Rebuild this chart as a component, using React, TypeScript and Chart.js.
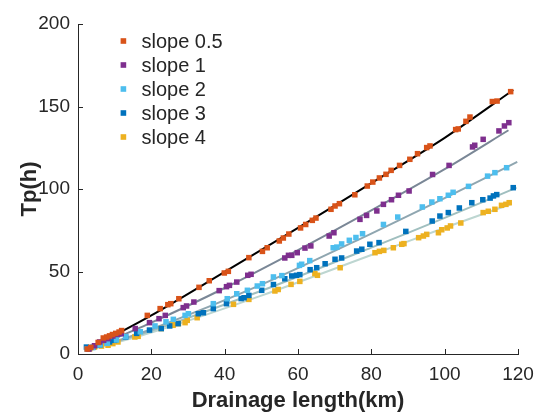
import React, { useEffect, useRef } from 'react';
import { Chart, registerables } from 'chart.js';

Chart.register(...registerables);

const seriesLabels = ['slope 0.5', 'slope 1', 'slope 2', 'slope 3', 'slope 4'];
const seriesColors = ['#D95319', '#7E2F8E', '#4DBEEE', '#0072BD', '#EDB120'];
const fitColors = ['#000000', '#7a8796', '#8fa6b0', '#a0bfbf', '#bdd6d1'];

const s05X = [2.5, 3.5, 5.5, 6.9, 7.8, 8.6, 9.4, 10.3, 11.2, 11.9, 18.9, 22.4, 24.5, 25.3, 27.5, 33.0, 35.8, 39.9, 41.0, 46.6, 50.3, 51.6, 54.9, 56.0, 57.5, 60.7, 62.1, 63.9, 64.9, 69.0, 70.1, 71.3, 75.5, 78.9, 80.4, 82.2, 84.0, 85.4, 87.7, 90.5, 92.6, 95.1, 96.0, 103.0, 103.7, 105.8, 106.9, 113.0, 114.3, 118.0];
const s05Y = [3.0, 4.0, 7.0, 9.7, 10.3, 11.0, 11.8, 12.5, 13.3, 14.2, 23.4, 27.5, 29.9, 30.5, 33.5, 40.4, 44.4, 49.1, 50.1, 58.4, 62.2, 64.4, 68.5, 70.3, 72.7, 76.4, 78.5, 81.0, 82.4, 87.7, 89.7, 91.1, 96.5, 101.8, 104.2, 106.7, 108.9, 111.3, 114.3, 118.0, 121.4, 125.1, 126.1, 136.0, 136.4, 141.0, 143.6, 153.0, 153.3, 159.0];

const s1X = [3.0, 4.5, 5.9, 7.0, 8.2, 9.5, 10.7, 11.8, 15.6, 19.5, 22.1, 23.8, 28.7, 29.6, 31.6, 38.5, 40.5, 41.3, 43.3, 46.3, 47.2, 56.4, 57.4, 58.3, 59.8, 61.9, 63.5, 68.5, 69.8, 76.9, 78.7, 81.5, 83.3, 85.5, 87.4, 90.3, 96.7, 101.2, 107.6, 108.2, 110.5, 114.8, 116.3, 117.5];
const s1Y = [3.0, 5.0, 7.3, 8.3, 9.3, 10.9, 11.9, 12.3, 15.4, 19.0, 21.4, 23.4, 28.1, 29.1, 31.5, 38.4, 40.8, 41.6, 43.6, 47.7, 48.3, 58.2, 59.8, 59.8, 61.4, 64.2, 65.5, 71.5, 73.5, 81.6, 84.0, 86.7, 90.7, 93.5, 96.2, 98.8, 108.8, 114.3, 125.5, 126.5, 130.1, 135.2, 138.2, 140.2];

const s2X = [2.5, 4.0, 6.0, 8.0, 10.5, 13.0, 17.0, 21.0, 24.0, 26.0, 29.2, 30.1, 36.9, 40.7, 43.3, 46.2, 48.9, 50.3, 53.3, 55.6, 60.4, 61.0, 63.2, 69.6, 70.6, 71.9, 74.0, 75.8, 77.6, 83.3, 87.2, 93.9, 96.5, 98.7, 101.0, 102.3, 106.5, 111.7, 113.7, 116.9];
const s2Y = [3.0, 4.0, 5.5, 6.5, 8.5, 10.5, 13.5, 17.0, 19.5, 21.0, 23.4, 24.4, 30.5, 33.5, 36.5, 38.6, 41.2, 42.6, 46.7, 47.5, 53.7, 54.4, 56.6, 64.4, 64.8, 66.7, 68.9, 70.6, 72.9, 78.5, 83.0, 89.1, 92.1, 94.1, 96.2, 98.0, 101.6, 107.8, 109.9, 112.9];

const s3X = [2.3, 2.7, 4.0, 6.0, 8.6, 10.0, 13.0, 16.0, 19.5, 22.7, 25.0, 27.3, 32.8, 34.2, 36.9, 40.5, 44.5, 45.3, 46.6, 50.1, 53.3, 56.4, 58.3, 59.6, 60.5, 63.3, 65.1, 67.4, 70.1, 71.9, 76.0, 77.4, 79.6, 82.1, 89.4, 96.6, 98.7, 101.0, 104.0, 107.4, 110.4, 112.4, 113.3, 114.2, 118.7];
const s3Y = [4.2, 3.2, 4.0, 5.5, 7.3, 8.3, 10.3, 12.5, 14.5, 15.4, 17.0, 18.4, 24.4, 25.0, 27.5, 30.5, 33.6, 34.1, 35.5, 38.6, 42.1, 45.6, 47.3, 47.7, 48.1, 51.1, 52.3, 54.7, 57.4, 58.2, 62.4, 63.5, 66.5, 67.5, 74.3, 80.6, 83.6, 85.7, 88.5, 91.7, 93.5, 94.5, 95.8, 96.6, 100.8];

const s4X = [3.2, 4.5, 6.4, 8.2, 9.5, 10.9, 15.5, 16.4, 22.7, 25.9, 26.0, 27.4, 29.2, 29.8, 32.5, 42.4, 46.6, 53.7, 54.6, 58.1, 60.5, 64.6, 65.3, 71.5, 81.0, 82.2, 83.4, 86.0, 88.3, 88.9, 92.9, 94.2, 95.1, 98.3, 99.2, 100.7, 101.6, 104.4, 110.5, 111.9, 113.7, 115.5, 116.7, 117.6];
const s4Y = [3.2, 4.2, 4.8, 5.3, 6.3, 7.3, 10.3, 10.7, 15.4, 17.4, 17.8, 18.4, 19.0, 20.4, 22.0, 30.1, 33.1, 38.2, 39.1, 42.2, 44.0, 48.7, 47.7, 52.3, 61.4, 62.2, 62.8, 64.4, 66.5, 66.9, 70.5, 71.5, 72.5, 73.5, 75.3, 76.4, 77.6, 79.4, 85.7, 86.5, 87.7, 90.1, 90.7, 91.7];

const fit05X = [2.5, 20, 40, 60, 80, 100, 118.7];
const fit05Y = [2.6, 23.4, 49.8, 76.5, 103.5, 131, 160];
const fit1X = [2.5, 20, 40, 60, 80, 100, 117.4];
const fit1Y = [2.3, 19, 40, 63, 87, 112, 135.6];
const fit2X = [2.5, 20, 50, 80, 100, 119.8];
const fit2Y = [2.2, 15, 42, 73, 94.5, 116.4];
const fit3X = [2.5, 20, 50, 80, 100, 119.6];
const fit3Y = [2.2, 14, 38.3, 64.5, 82.5, 100.8];
const fit4X = [2.5, 20, 50, 80, 100, 118.3];
const fit4Y = [2.2, 13, 35.4, 60, 76.5, 91.1];

const xTickStep = 20;
const yTickStep = 50;
const xTitle = 'Drainage length(km)';
const yTitle = 'Tp(h)';

const FONT = "'Liberation Sans', Arial, Helvetica, sans-serif";
const TEXT = '#262626';

const zip = (xs: number[], ys: number[]) => xs.map((x, i) => ({ x, y: ys[i] }));

const pointSets = [zip(s05X, s05Y), zip(s1X, s1Y), zip(s2X, s2Y), zip(s3X, s3Y), zip(s4X, s4Y)];
const fitSets = [zip(fit05X, fit05Y), zip(fit1X, fit1Y), zip(fit2X, fit2Y), zip(fit3X, fit3Y), zip(fit4X, fit4Y)];

const innerTicks = {
  id: 'innerTicks',
  afterDraw(chart: any) {
    const ctx = chart.ctx;
    const xs = chart.scales.x;
    const ys = chart.scales.y;
    const ca = chart.chartArea;
    ctx.save();
    ctx.strokeStyle = TEXT;
    ctx.lineWidth = 1;
    ctx.beginPath();
    xs.ticks.forEach((t: any) => {
      const px = Math.round(xs.getPixelForValue(t.value)) + 0.5;
      ctx.moveTo(px, ca.bottom);
      ctx.lineTo(px, ca.bottom - 5);
    });
    ys.ticks.forEach((t: any) => {
      const py = Math.round(ys.getPixelForValue(t.value)) + 0.5;
      ctx.moveTo(ca.left, py);
      ctx.lineTo(ca.left + 5, py);
    });
    ctx.stroke();
    ctx.restore();
  },
};

const insideLegend = {
  id: 'insideLegend',
  afterDraw(chart: any) {
    const ctx = chart.ctx;
    const ca = chart.chartArea;
    ctx.save();
    ctx.font = `20px ${FONT}`;
    ctx.textBaseline = 'middle';
    ctx.textAlign = 'left';
    let row = 0;
    chart.data.datasets.forEach((ds: any) => {
      if (!ds.isSeries) return;
      const y = ca.top + 17 + row * 24;
      ctx.fillStyle = ds.backgroundColor;
      ctx.fillRect(ca.left + 45.4 - 2.8, y - 2.8, 5.6, 5.6);
      ctx.fillStyle = TEXT;
      ctx.fillText(ds.label, ca.left + 63.5, y + 1);
      row++;
    });
    ctx.restore();
  },
};

export default function App() {
  const ref = useRef<HTMLCanvasElement | null>(null);
  useEffect(() => {
    if (!ref.current) return;
    const datasets: any[] = [];
    pointSets.forEach((pts, i) => {
      datasets.push({
        label: seriesLabels[i],
        isSeries: true,
        data: pts,
        showLine: false,
        pointStyle: 'rect',
        pointRadius: 3.9,
        pointBorderWidth: 0,
        backgroundColor: seriesColors[i],
        borderColor: seriesColors[i],
        order: 1,
      });
    });
    fitSets.forEach((pts, i) => {
      datasets.push({
        label: seriesLabels[i] + ' fit',
        isSeries: false,
        data: pts,
        showLine: true,
        pointRadius: 0,
        borderWidth: 2,
        borderColor: fitColors[i],
        backgroundColor: fitColors[i],
        tension: 0.3,
        order: 2,
      });
    });
    const chart = new Chart(ref.current, {
      type: 'scatter',
      data: { datasets },
      options: {
        animation: false,
        responsive: true,
        maintainAspectRatio: false,
        layout: { padding: { top: 24, right: 18, left: 0, bottom: 0 } },
        plugins: {
          legend: { display: false },
          tooltip: { enabled: false },
        },
        scales: {
          x: {
            type: 'linear',
            min: 0,
            max: 120,
            ticks: {
              stepSize: xTickStep,
              font: { family: FONT, size: 19 },
              color: TEXT,
              padding: 9,
              maxRotation: 0,
            },
            grid: { display: true, drawOnChartArea: false, drawTicks: false },
            border: { display: true, color: TEXT, width: 1 },
            title: {
              display: true,
              text: xTitle,
              font: { family: FONT, size: 22, weight: 'bold' },
              color: TEXT,
              padding: { top: 0, bottom: 0 },
            },
            afterFit: (s: any) => {
              s.height = 60;
              s.paddingLeft = 0;
              s.paddingRight = 0;
            },
          },
          y: {
            type: 'linear',
            min: 0,
            max: 200,
            ticks: {
              stepSize: yTickStep,
              font: { family: FONT, size: 19 },
              color: TEXT,
              padding: 8,
            },
            grid: { display: true, drawOnChartArea: false, drawTicks: false },
            border: { display: true, color: TEXT, width: 1 },
            title: {
              display: true,
              text: yTitle,
              font: { family: FONT, size: 22, weight: 'bold' },
              color: TEXT,
              padding: { top: 17, bottom: 0 },
            },
            afterFit: (s: any) => {
              s.width = 78;
              s.paddingTop = 0;
              s.paddingBottom = 0;
            },
          },
        },
      },
      plugins: [innerTicks, insideLegend],
    } as any);
    return () => chart.destroy();
  }, []);
  return (
    <div style={{ position: 'fixed', left: 0, top: 0, width: 536, height: 414, background: '#fff' }}>
      <canvas ref={ref} />
    </div>
  );
}
